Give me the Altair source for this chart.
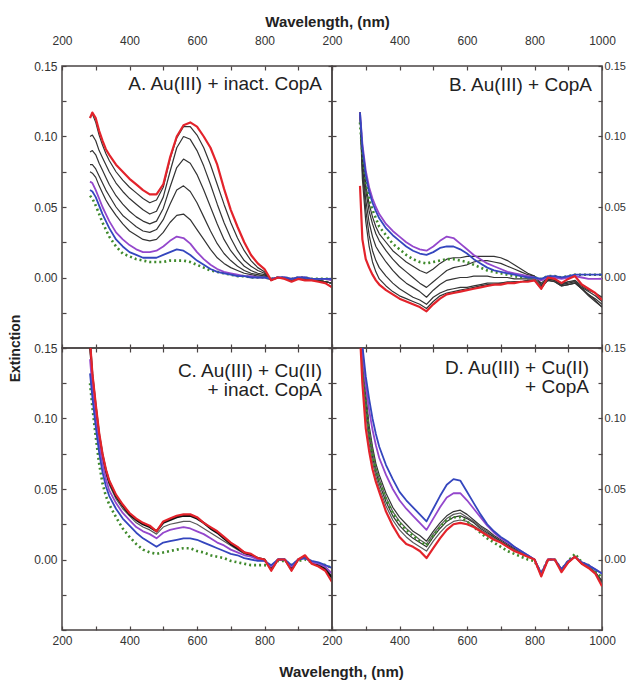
import altair as alt
import pandas as pd

# ---------------- data ----------------
WL = [283, 290, 300, 310, 320, 330, 340, 360, 380, 400, 420, 440, 460, 480, 500,
      520, 540, 560, 580, 600, 620, 640, 660, 680, 700, 720, 740, 760, 780, 800,
      820, 840, 860, 880, 900, 920, 940, 960, 980, 1000]

X_TICKS = [200, 300, 400, 500, 600, 700, 800, 900, 1000]
Y_TICKS = [-0.05, -0.025, 0.0, 0.025, 0.05, 0.075, 0.1, 0.125, 0.15]

PANEL_LABELS = {
    "A": "A. Au(III) + inact. CopA",
    "B": "B. Au(III) + CopA",
    "C": "C. Au(III) + Cu(II)\n+ inact. CopA",
    "D": "D. Au(III) + Cu(II)\n+ CopA",
}

# Panel A
A_RED = [0.113, 0.117, 0.113, 0.104, 0.097, 0.091, 0.087, 0.080, 0.075, 0.070, 0.066, 0.062, 0.059, 0.059,
         0.066, 0.085, 0.100, 0.108, 0.110, 0.107, 0.100, 0.092, 0.080, 0.063, 0.048, 0.036, 0.025, 0.016,
         0.010, 0.006, -0.002, 0.000, -0.001, -0.003, -0.001, -0.002, -0.002, -0.003, -0.004, -0.007]
A_K1 = [0.114, 0.116, 0.110, 0.101, 0.094, 0.088, 0.083, 0.075, 0.069, 0.064, 0.060, 0.056, 0.053, 0.055,
        0.064, 0.084, 0.099, 0.107, 0.107, 0.101, 0.092, 0.080, 0.066, 0.052, 0.039, 0.028, 0.019, 0.012,
        0.007, 0.004, -0.002, 0.000, 0.000, -0.002, -0.001, -0.001, -0.002, -0.002, -0.003, -0.004]
A_K2 = [0.100, 0.101, 0.097, 0.090, 0.085, 0.080, 0.075, 0.067, 0.061, 0.056, 0.052, 0.048, 0.045, 0.047,
        0.057, 0.075, 0.092, 0.100, 0.098, 0.090, 0.079, 0.066, 0.052, 0.039, 0.028, 0.019, 0.012, 0.008,
        0.005, 0.003, -0.002, 0.000, 0.000, -0.002, -0.001, -0.001, -0.002, -0.002, -0.003, -0.004]
A_K3 = [0.089, 0.090, 0.087, 0.081, 0.076, 0.071, 0.066, 0.058, 0.052, 0.047, 0.043, 0.040, 0.038, 0.040,
        0.049, 0.064, 0.078, 0.084, 0.081, 0.073, 0.062, 0.050, 0.038, 0.027, 0.019, 0.013, 0.008, 0.005,
        0.003, 0.002, -0.002, 0.000, 0.000, -0.002, -0.001, -0.001, -0.002, -0.002, -0.003, -0.004]
A_K4 = [0.080, 0.080, 0.077, 0.072, 0.067, 0.062, 0.058, 0.050, 0.044, 0.040, 0.036, 0.033, 0.032, 0.034,
        0.041, 0.052, 0.062, 0.065, 0.061, 0.053, 0.043, 0.033, 0.024, 0.017, 0.012, 0.008, 0.005, 0.003,
        0.002, 0.001, -0.002, 0.000, 0.000, -0.002, -0.001, -0.001, -0.002, -0.002, -0.003, -0.004]
A_K5 = [0.075, 0.074, 0.071, 0.065, 0.060, 0.055, 0.051, 0.044, 0.038, 0.033, 0.030, 0.027, 0.026, 0.027,
        0.032, 0.039, 0.044, 0.045, 0.041, 0.034, 0.027, 0.020, 0.014, 0.010, 0.007, 0.005, 0.003, 0.002,
        0.001, 0.001, -0.002, 0.000, 0.000, -0.002, -0.001, -0.001, -0.002, -0.002, -0.003, -0.004]
A_PURPLE = [0.068, 0.067, 0.062, 0.056, 0.050, 0.045, 0.040, 0.032, 0.027, 0.023, 0.020, 0.018, 0.018, 0.019,
            0.022, 0.026, 0.029, 0.028, 0.024, 0.018, 0.013, 0.009, 0.006, 0.004, 0.003, 0.002, 0.001, 0.001,
            0.000, 0.000, -0.001, 0.000, 0.000, -0.001, 0.000, 0.000, -0.001, -0.001, -0.001, -0.002]
A_BLUE = [0.062, 0.061, 0.057, 0.051, 0.045, 0.040, 0.035, 0.027, 0.022, 0.018, 0.016, 0.014, 0.014, 0.014,
          0.016, 0.018, 0.020, 0.019, 0.016, 0.012, 0.009, 0.006, 0.004, 0.003, 0.002, 0.001, 0.001, 0.000,
          0.000, 0.000, -0.001, 0.000, 0.000, -0.001, 0.000, 0.000, -0.001, -0.001, -0.001, -0.001]
A_GREEN = [0.058, 0.056, 0.051, 0.045, 0.039, 0.034, 0.029, 0.022, 0.017, 0.015, 0.013, 0.012, 0.011, 0.011,
           0.011, 0.012, 0.012, 0.012, 0.011, 0.009, 0.007, 0.005, 0.004, 0.003, 0.002, 0.001, 0.001, 0.000,
           0.000, 0.000, -0.001, 0.000, 0.000, -0.001, 0.000, 0.000, -0.001, -0.001, -0.001, -0.001]

# Panel B
B_RED = [0.065, 0.027, 0.013, 0.007, 0.002, -0.002, -0.005, -0.009, -0.012, -0.015, -0.017, -0.019, -0.021, -0.024,
         -0.019, -0.015, -0.012, -0.011, -0.010, -0.009, -0.008, -0.007, -0.006, -0.005, -0.005, -0.004, -0.004, -0.003,
         -0.003, -0.002, -0.008, 0.000, -0.001, -0.004, -0.001, 0.001, -0.005, -0.008, -0.011, -0.016]
B_K1 = [0.117, 0.088, 0.066, 0.052, 0.043, 0.036, 0.031, 0.025, 0.019, 0.015, 0.011, 0.008, 0.005, 0.003,
        0.006, 0.010, 0.013, 0.014, 0.014, 0.015, 0.015, 0.015, 0.015, 0.015, 0.014, 0.012, 0.009, 0.006,
        0.003, 0.001, -0.004, 0.000, -0.001, -0.004, -0.003, -0.002, -0.006, -0.009, -0.011, -0.014]
B_K2 = [0.117, 0.085, 0.062, 0.047, 0.038, 0.031, 0.026, 0.019, 0.013, 0.008, 0.004, 0.000, -0.004, -0.007,
        -0.003, 0.001, 0.005, 0.007, 0.008, 0.009, 0.011, 0.012, 0.012, 0.011, 0.010, 0.008, 0.006, 0.004,
        0.002, 0.001, -0.005, -0.001, -0.002, -0.005, -0.004, -0.003, -0.007, -0.010, -0.013, -0.017]
B_K3 = [0.117, 0.080, 0.055, 0.039, 0.029, 0.022, 0.018, 0.011, 0.005, 0.000, -0.004, -0.007, -0.010, -0.014,
        -0.009, -0.005, -0.002, -0.001, 0.000, 0.000, 0.001, 0.001, 0.001, 0.000, 0.000, 0.000, -0.001, -0.001,
        -0.001, -0.001, -0.006, -0.002, -0.003, -0.006, -0.005, -0.004, -0.008, -0.012, -0.015, -0.019]
B_K4 = [0.117, 0.076, 0.048, 0.030, 0.019, 0.012, 0.007, 0.001, -0.004, -0.008, -0.011, -0.014, -0.016, -0.019,
        -0.014, -0.011, -0.009, -0.008, -0.007, -0.007, -0.006, -0.005, -0.004, -0.004, -0.004, -0.003, -0.003, -0.003,
        -0.002, -0.002, -0.007, -0.002, -0.003, -0.006, -0.005, -0.004, -0.008, -0.013, -0.017, -0.021]
B_K5 = [0.117, 0.070, 0.040, 0.022, 0.011, 0.004, -0.001, -0.006, -0.010, -0.013, -0.015, -0.017, -0.019, -0.022,
        -0.017, -0.013, -0.011, -0.010, -0.009, -0.008, -0.007, -0.006, -0.005, -0.005, -0.004, -0.004, -0.003, -0.003,
        -0.002, -0.002, -0.008, -0.001, -0.002, -0.005, -0.003, -0.003, -0.008, -0.012, -0.016, -0.021]
B_PURPLE = [0.117, 0.095, 0.076, 0.064, 0.056, 0.050, 0.045, 0.038, 0.033, 0.029, 0.025, 0.022, 0.020, 0.019,
            0.022, 0.026, 0.029, 0.028, 0.024, 0.020, 0.016, 0.013, 0.010, 0.008, 0.006, 0.004, 0.003, 0.002,
            0.001, 0.000, -0.002, 0.000, 0.000, -0.001, 0.000, 0.001, 0.000, -0.001, -0.001, -0.001]
B_BLUE = [0.117, 0.092, 0.073, 0.061, 0.053, 0.047, 0.042, 0.035, 0.030, 0.026, 0.022, 0.019, 0.017, 0.016,
          0.018, 0.021, 0.022, 0.022, 0.020, 0.017, 0.013, 0.010, 0.007, 0.005, 0.004, 0.003, 0.002, 0.001,
          0.000, 0.000, -0.001, 0.001, 0.001, 0.000, 0.001, 0.002, 0.002, 0.002, 0.002, 0.002]
B_GREEN = [0.110, 0.088, 0.068, 0.055, 0.048, 0.042, 0.036, 0.030, 0.024, 0.020, 0.016, 0.013, 0.011, 0.010,
           0.011, 0.012, 0.013, 0.013, 0.012, 0.011, 0.009, 0.007, 0.005, 0.004, 0.003, 0.002, 0.001, 0.000,
           0.000, 0.000, -0.001, 0.001, 0.001, 0.000, 0.001, 0.002, 0.002, 0.002, 0.002, 0.002]

# Panel C
C_RED = [0.155, 0.132, 0.110, 0.090, 0.075, 0.064, 0.056, 0.046, 0.039, 0.033, 0.029, 0.026, 0.024, 0.020,
         0.027, 0.029, 0.031, 0.032, 0.032, 0.030, 0.026, 0.023, 0.020, 0.016, 0.012, 0.009, 0.005, 0.004,
         0.001, 0.000, -0.008, 0.000, 0.000, -0.008, 0.000, 0.003, -0.003, -0.005, -0.008, -0.016]
C_K1 = [0.153, 0.130, 0.108, 0.088, 0.074, 0.063, 0.055, 0.045, 0.038, 0.032, 0.028, 0.025, 0.023, 0.020,
        0.026, 0.028, 0.030, 0.031, 0.031, 0.029, 0.026, 0.022, 0.019, 0.015, 0.011, 0.008, 0.005, 0.003,
        0.001, 0.000, -0.007, 0.000, 0.000, -0.007, 0.000, 0.002, -0.002, -0.004, -0.007, -0.013]
C_K2 = [0.150, 0.127, 0.105, 0.086, 0.072, 0.061, 0.053, 0.043, 0.036, 0.031, 0.026, 0.023, 0.021, 0.018,
        0.023, 0.025, 0.026, 0.027, 0.027, 0.025, 0.022, 0.019, 0.016, 0.013, 0.010, 0.007, 0.004, 0.003,
        0.001, 0.000, -0.006, 0.000, 0.000, -0.006, 0.000, 0.002, -0.002, -0.004, -0.006, -0.012]
C_PURPLE = [0.142, 0.122, 0.100, 0.082, 0.068, 0.057, 0.049, 0.040, 0.033, 0.028, 0.023, 0.020, 0.018, 0.015,
            0.019, 0.021, 0.022, 0.023, 0.022, 0.020, 0.018, 0.015, 0.012, 0.010, 0.007, 0.005, 0.003, 0.002,
            0.000, -0.001, -0.005, 0.000, 0.000, -0.005, 0.000, 0.001, -0.002, -0.003, -0.005, -0.010]
C_BLUE = [0.132, 0.115, 0.094, 0.076, 0.062, 0.052, 0.045, 0.036, 0.029, 0.024, 0.019, 0.015, 0.012, 0.009,
          0.012, 0.013, 0.014, 0.015, 0.015, 0.014, 0.012, 0.010, 0.008, 0.006, 0.004, 0.003, 0.001, 0.000,
          -0.001, -0.001, -0.004, 0.000, 0.000, -0.004, 0.000, 0.001, -0.001, -0.002, -0.004, -0.006]
C_GREEN = [0.125, 0.108, 0.087, 0.068, 0.054, 0.045, 0.039, 0.030, 0.022, 0.016, 0.011, 0.007, 0.005, 0.004,
           0.005, 0.006, 0.007, 0.008, 0.008, 0.006, 0.005, 0.003, 0.002, 0.001, -0.001, -0.002, -0.003, -0.004,
           -0.004, -0.004, -0.005, -0.001, -0.001, -0.004, -0.001, 0.000, -0.002, -0.003, -0.004, -0.006]

# Panel D
D_RED = [0.160, 0.125, 0.093, 0.077, 0.064, 0.055, 0.048, 0.034, 0.024, 0.016, 0.011, 0.009, 0.006, 0.001,
         0.008, 0.015, 0.021, 0.025, 0.026, 0.025, 0.023, 0.020, 0.017, 0.014, 0.012, 0.009, 0.006, 0.004,
         0.002, 0.000, -0.012, 0.000, 0.000, -0.009, -0.002, 0.002, -0.003, -0.006, -0.010, -0.019]
D_K1 = [0.175, 0.150, 0.118, 0.095, 0.080, 0.068, 0.060, 0.047, 0.037, 0.030, 0.025, 0.020, 0.017, 0.013,
        0.020, 0.026, 0.031, 0.034, 0.035, 0.032, 0.028, 0.024, 0.021, 0.017, 0.014, 0.011, 0.008, 0.005,
        0.003, 0.000, -0.011, 0.000, 0.000, -0.008, -0.002, 0.002, -0.003, -0.005, -0.009, -0.015]
D_K2 = [0.172, 0.147, 0.114, 0.091, 0.077, 0.065, 0.057, 0.044, 0.034, 0.027, 0.022, 0.018, 0.014, 0.011,
        0.018, 0.024, 0.029, 0.032, 0.033, 0.030, 0.027, 0.023, 0.020, 0.016, 0.013, 0.010, 0.007, 0.005,
        0.002, 0.000, -0.011, 0.000, 0.000, -0.008, -0.002, 0.002, -0.003, -0.005, -0.009, -0.016]
D_K3 = [0.170, 0.144, 0.110, 0.087, 0.073, 0.062, 0.054, 0.041, 0.031, 0.024, 0.019, 0.015, 0.012, 0.009,
        0.016, 0.022, 0.027, 0.030, 0.031, 0.029, 0.026, 0.022, 0.019, 0.016, 0.013, 0.010, 0.007, 0.004,
        0.002, 0.000, -0.011, 0.000, 0.000, -0.008, -0.002, 0.002, -0.003, -0.005, -0.009, -0.016]
D_K4 = [0.168, 0.140, 0.104, 0.082, 0.069, 0.059, 0.051, 0.038, 0.028, 0.021, 0.016, 0.012, 0.009, 0.006,
        0.013, 0.019, 0.024, 0.027, 0.028, 0.027, 0.024, 0.021, 0.018, 0.015, 0.012, 0.009, 0.007, 0.004,
        0.002, 0.000, -0.012, 0.000, 0.000, -0.008, -0.002, 0.002, -0.003, -0.005, -0.009, -0.017]
D_PURPLE = [0.170, 0.148, 0.124, 0.106, 0.092, 0.081, 0.072, 0.060, 0.050, 0.042, 0.036, 0.031, 0.026, 0.021,
            0.029, 0.037, 0.044, 0.047, 0.047, 0.042, 0.036, 0.030, 0.024, 0.019, 0.015, 0.012, 0.009, 0.006,
            0.003, 0.000, -0.010, 0.000, 0.000, -0.007, -0.001, 0.002, -0.002, -0.004, -0.007, -0.010]
D_BLUE = [0.175, 0.152, 0.130, 0.114, 0.100, 0.089, 0.080, 0.067, 0.057, 0.048, 0.042, 0.037, 0.032, 0.027,
          0.036, 0.045, 0.053, 0.057, 0.056, 0.048, 0.040, 0.032, 0.025, 0.020, 0.016, 0.013, 0.009, 0.006,
          0.003, 0.000, -0.010, 0.000, 0.000, -0.007, -0.001, 0.002, -0.002, -0.004, -0.007, -0.010]
D_GREEN = [0.170, 0.145, 0.112, 0.089, 0.075, 0.064, 0.056, 0.043, 0.033, 0.026, 0.021, 0.017, 0.013, 0.010,
           0.017, 0.023, 0.028, 0.030, 0.030, 0.027, 0.023, 0.019, 0.015, 0.012, 0.009, 0.006, 0.004, 0.002,
           0.000, -0.001, -0.010, 0.000, 0.000, -0.007, -0.001, 0.004, -0.002, -0.004, -0.008, -0.013]

# series per panel: (name, values, class)
SERIES = {
    "A": [("k1", A_K1, "black"), ("k2", A_K2, "black"), ("k3", A_K3, "black"), ("k4", A_K4, "black"),
          ("k5", A_K5, "black"), ("green", A_GREEN, "green"), ("purple", A_PURPLE, "purple"),
          ("blue", A_BLUE, "blue"), ("red", A_RED, "red")],
    "B": [("k1", B_K1, "black"), ("k2", B_K2, "black"), ("k3", B_K3, "black"), ("k4", B_K4, "black"),
          ("k5", B_K5, "black"), ("green", B_GREEN, "green"), ("purple", B_PURPLE, "purple"),
          ("blue", B_BLUE, "blue"), ("red", B_RED, "red")],
    "C": [("k2", C_K2, "gray"), ("k1", C_K1, "thick"), ("green", C_GREEN, "green"),
          ("purple", C_PURPLE, "purple"), ("blue", C_BLUE, "blue"), ("red", C_RED, "red")],
    "D": [("k1", D_K1, "black"), ("k2", D_K2, "gray"), ("k3", D_K3, "black"), ("k4", D_K4, "gray"),
          ("green", D_GREEN, "green"), ("purple", D_PURPLE, "purple"), ("blue", D_BLUE, "blue"),
          ("red", D_RED, "red")],
}

# ---------------- styling ----------------
FONT = "Liberation Sans"
FRAME = "#4a4444"
LABEL = "#333333"
RED = "#e3232b"
PURPLE = "#9447cc"
BLUE = "#3446be"
GREEN = "#3f8a2c"
CLASS_STYLE = {"black": ("#333333", 1.2), "gray": ("#5a5a5a", 1.2), "thick": ("#111111", 2.2)}

W, H = 270, 282
TICK = 4
TEXT_POS = {"A": (260, 9), "B": (260, 10), "C": (260, 14), "D": (257, 11)}

rows = []
for p, lst in SERIES.items():
    for name, vals, cls in lst:
        col, w = CLASS_STYLE.get(cls, ("#000000", 1.5))
        for x, v in zip(WL, vals):
            rows.append({"panel": p, "series": name, "cls": cls, "wl": x, "v": v, "c": col, "w": w})
df = pd.DataFrame(rows)

XS = alt.Scale(domain=[200, 1000], nice=False, zero=False)
YS = alt.Scale(domain=[-0.05, 0.15], nice=False, zero=False)

X_EXPR_LEFT = "datum.value % 200 == 0 && datum.value < 1000 ? format(datum.value, 'd') : ''"
X_EXPR_RIGHT = "datum.value % 200 == 0 ? format(datum.value, 'd') : ''"
Y_EXPR = ("datum.value > -0.01 && abs(datum.value * 20 - round(datum.value * 20)) < 0.01 "
          "? format(datum.value, '.2f') : ''")


def axis(orient, values, labels, expr, pad, size=12, **extra):
    # axis line moved inside the frame by TICK px, so the ticks point inward
    kw = dict(orient=orient, values=values, grid=False, domain=False, ticks=True,
              tickSize=TICK, offset=-TICK, tickColor=FRAME, tickWidth=1.2,
              labels=labels, labelExpr=expr, labelFont=FONT, labelFontSize=size,
              labelColor=LABEL, labelPadding=pad, labelFlush=False, labelOverlap=False,
              titleFont=FONT, titleFontWeight="bold", titleColor="#222222")
    kw.update(extra)
    return alt.Axis(**kw)


def panel(p):
    top_row = p in ("A", "B")
    left_col = p in ("A", "C")
    xexpr = X_EXPR_LEFT if left_col else X_EXPR_RIGHT
    d = df[df.panel == p]

    bottom_kw = {}
    top_kw = {}
    left_kw = {}
    xb_title = None
    xt_title = None
    yl_title = None
    if p == "A":
        xt_title = "Wavelength, (nm)"
        top_kw = dict(titleX=265, titleY=-45 - TICK, titleAlign="center", titleBaseline="middle",
                      titleFontSize=15, titleAngle=0)
        yl_title = "Extinction"
        left_kw = dict(titleX=-47 - TICK, titleY=282, titleAlign="center", titleBaseline="middle",
                       titleFontSize=14, titleAngle=270)
    if p == "C":
        xb_title = "Wavelength, (nm)"
        bottom_kw = dict(titleX=279, titleY=41 + TICK, titleAlign="center", titleBaseline="middle",
                         titleFontSize=15, titleAngle=0)

    ax_bottom = axis("bottom", X_TICKS, not top_row, xexpr, 5, **bottom_kw)
    ax_top = axis("top", X_TICKS, top_row, xexpr, 19, **top_kw)
    ax_left = axis("left", Y_TICKS, left_col, Y_EXPR, 5, **left_kw)
    ax_right = axis("right", Y_TICKS, not left_col, Y_EXPR, 2, size=11)

    blacks = alt.Chart(d[d.cls.isin(["black", "gray", "thick"])]).mark_line(
        clip=True, strokeJoin="round").encode(
        x=alt.X("wl:Q", scale=XS, axis=ax_bottom, title=xb_title),
        y=alt.Y("v:Q", scale=YS, axis=ax_left, title=yl_title),
        detail="series:N",
        color=alt.Color("c:N", scale=None),
        strokeWidth=alt.StrokeWidth("w:Q", scale=None),
        order=alt.Order("wl:Q"),
    )

    def single(cls, color, width, dash=None):
        props = dict(clip=True, color=color, strokeWidth=width, strokeJoin="round")
        if dash is not None:
            props["strokeDash"] = dash
        return alt.Chart(d[d.cls == cls]).mark_line(**props).encode(
            x=alt.X("wl:Q", scale=XS, axis=None),
            y=alt.Y("v:Q", scale=YS, axis=None),
            order=alt.Order("wl:Q"),
        )

    green = single("green", GREEN, 2.6, [2, 3])
    purple = single("purple", PURPLE, 1.8)
    blue = single("blue", BLUE, 1.8)
    red = alt.Chart(d[d.cls == "red"]).mark_line(
        clip=True, color=RED, strokeWidth=2.2, strokeJoin="round").encode(
        x=alt.X("wl:Q", scale=XS, axis=ax_top, title=xt_title),
        y=alt.Y("v:Q", scale=YS, axis=ax_right, title=None),
        order=alt.Order("wl:Q"),
    )

    tx, ty = TEXT_POS[p]
    label = alt.Chart(pd.DataFrame({"t": [PANEL_LABELS[p]]})).mark_text(
        align="right", baseline="top", font=FONT, fontSize=19, lineBreak="\n",
        lineHeight=19, color="#222222").encode(
        x=alt.value(tx), y=alt.value(ty), text="t:N")

    return alt.layer(blacks, green, purple, blue, red, label).resolve_axis(
        x="independent", y="independent").properties(width=W, height=H)


# fixed-size canvas (the reference is cropped at its right and bottom edges)
chart = alt.concat(panel("A"), panel("B"), panel("C"), panel("D"),
                   columns=2, spacing=0, bounds="flush").configure_view(
    stroke=FRAME, strokeWidth=1.5).properties(
    autosize=alt.AutoSizeParams(type="none"),
    padding={"left": 54, "top": 58, "right": 564, "bottom": 614},
    background="white")

chart.save("out.html", embed_options={"renderer": "svg", "actions": False})
